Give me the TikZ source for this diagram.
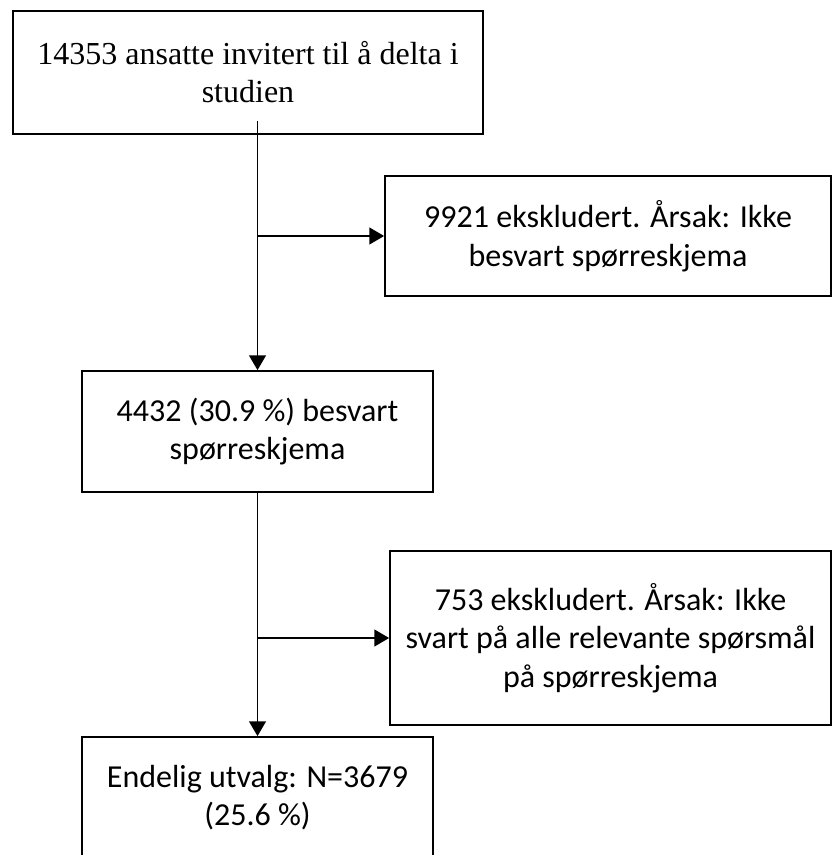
\documentclass[tikz,border=0pt]{standalone}
\usepackage{fontspec}
\setmainfont{Liberation Serif}
\newfontfamily\carl{Carlito}
\usetikzlibrary{arrows.meta,calc}
\begin{document}
\begin{tikzpicture}[x=0.75pt,y=-0.75pt,
  box/.style={draw=black,line width=1.3pt,align=center,inner sep=0pt,font=\carl\fontsize{24}{29}\selectfont},
  conn/.style={line width=1.3pt,draw=black},
  arr/.style={conn,-{Triangle[length=11pt,width=12.5pt]}}]
\useasboundingbox (0,0) rectangle (832,855);
\node[box,minimum width=470*0.75pt,minimum height=123*0.75pt,font=\fontsize{24}{28.5}\selectfont] (b1) at (248,72.5)
  {14353 ansatte invitert til å delta i\\studien};
\node[box,minimum width=446*0.75pt,minimum height=120*0.75pt] (b2) at (608,236)
  {9921 ekskludert. Årsak: Ikke\\besvart spørreskjema};
\node[box,minimum width=351*0.75pt,minimum height=121*0.75pt] (b3) at (257.5,431.5)
  {4432 (30.9 \%) besvart\\spørreskjema};
\node[box,minimum width=441*0.75pt,minimum height=174*0.75pt] (b4) at (610.5,638)
  {753 ekskludert. Årsak: Ikke\\svart på alle relevante spørsmål\\på spørreskjema};
\node[box,minimum width=351*0.75pt,minimum height=121*0.75pt] (b5) at (257.5,797.5)
  {Endelig utvalg: N=3679\\(25.6 \%)};
\coordinate (s1) at ($(b1.south -| b3.north)+(0,-14)$);
\draw[arr] (s1) -- (b3.north);
\draw[arr] (b2.west -| b3.north) -- (b2.west);
\draw[arr] (b3.south) -- (b5.north);
\draw[arr] (b4.west -| b3.south) -- (b4.west);
\end{tikzpicture}
\end{document}
